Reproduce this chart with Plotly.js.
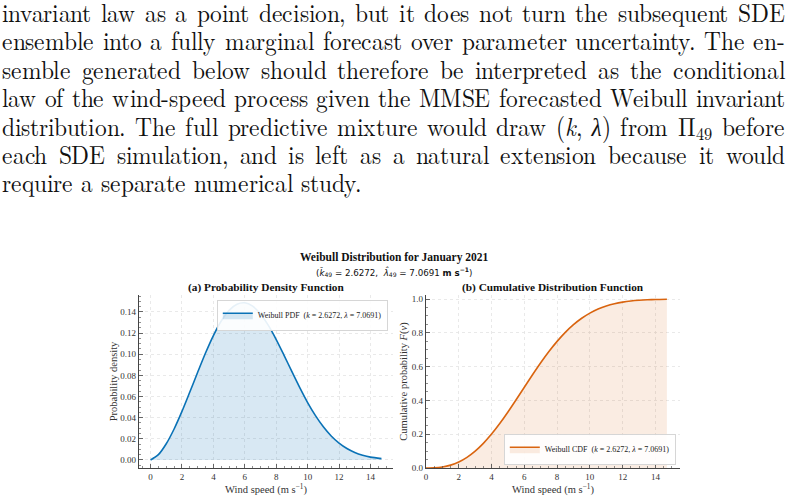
<!DOCTYPE html>
<html>
<head>
<meta charset="utf-8">
<script src="https://cdn.plot.ly/plotly-3.0.1.min.js"></script>
<style>
  @font-face { font-family: 'LMRtight'; font-style: normal; font-weight: 400;
    src: local('LM Roman 10 Regular'), local('LMRoman10-Regular'), local('Latin Modern Roman');
    ascent-override: 84%; descent-override: 22%; line-gap-override: 0%; }
  @font-face { font-family: 'LMRtight'; font-style: italic; font-weight: 400;
    src: local('LM Roman 10 Italic'), local('LMRoman10-Italic'), local('Latin Modern Roman Italic');
    ascent-override: 84%; descent-override: 22%; line-gap-override: 0%; }
  html, body { margin: 0; padding: 0; background: #ffffff; }
  #wrap { position: relative; width: 789px; height: 498px; overflow: hidden; }
  #para { position: absolute; left: 2px; top: 0px; width: 784px; z-index: 2;
          font-family: 'LMRtight', 'Latin Modern Roman', 'Liberation Serif', serif; font-size: 26px;
          line-height: 28.4px; color: #111; transform-origin: left top; }
  #para div { white-space: nowrap; text-align: justify; text-align-last: justify; height: 28.4px; }
  #para div.last { text-align-last: left; }
  #para .sub { font-size: 0.7em; vertical-align: -0.2em; line-height: 0; }
  #chart { position: absolute; left: 0; top: 0; width: 789px; height: 498px; z-index: 1; }
</style>
</head>
<body>
<div id="wrap">
  <div id="para">
    <div>invariant law as a point decision, but it does not turn the subsequent SDE</div>
    <div>ensemble into a fully marginal forecast over parameter uncertainty. The en-</div>
    <div>semble generated below should therefore be interpreted as the conditional</div>
    <div>law of the wind-speed process given the MMSE forecasted Weibull invariant</div>
    <div>distribution. The full predictive mixture would draw (<i>k</i>, <i>λ</i>) from Π<span class="sub">49</span> before</div>
    <div>each SDE simulation, and is left as a natural extension because it would</div>
    <div class="last">require a separate numerical study.</div>
  </div>
  <div id="chart"></div>
</div>
<script>
// Wind speed grid (m/s) at which the curves were read
const windSpeed = [0, 0.5, 1, 1.5, 2, 2.5, 3, 3.5, 4, 4.5, 5, 5.5, 6, 6.5, 7, 7.5,
                   8, 8.5, 9, 9.5, 10, 10.5, 11, 11.5, 12, 12.5, 13, 13.5, 14, 14.7];
// Probability density values
const pdfValues = [0.0000, 0.0050, 0.0153, 0.0293, 0.0459, 0.0642, 0.0829, 0.1011,
                   0.1176, 0.1314, 0.1415, 0.1473, 0.1486, 0.1454, 0.1380, 0.1272,
                   0.1139, 0.0990, 0.0835, 0.0684, 0.0543, 0.0419, 0.0313, 0.0226,
                   0.0159, 0.0108, 0.0071, 0.0045, 0.0027, 0.0013];
// Cumulative probability values
const cdfValues = [0.0000, 0.0010, 0.0059, 0.0169, 0.0356, 0.0631, 0.0998, 0.1459,
                   0.2007, 0.2631, 0.3314, 0.4038, 0.4780, 0.5516, 0.6226, 0.6891,
                   0.7494, 0.8027, 0.8483, 0.8863, 0.9169, 0.9408, 0.9590, 0.9724,
                   0.9820, 0.9886, 0.9930, 0.9958, 0.9976, 0.9989];
const pdfName = "Weibull PDF  (<i>k</i> = 2.6272, <i>λ</i> = 7.0691)";
const cdfName = "Weibull CDF  (<i>k</i> = 2.6272, <i>λ</i> = 7.0691)";
const mainTitle = "<b>Weibull Distribution for January 2021</b>";
const subTitle = "(<i>k̂</i><sub>49</sub> = 2.6272,  <i>λ̂</i><sub>49</sub> = 7.0691 <b>m s<sup>−1</sup></b>)";
const panelTitles = ["<b>(a) Probability Density Function</b>", "<b>(b) Cumulative Distribution Function</b>"];
const xLabel = "Wind speed (m s<sup>−1</sup>)";
const yLabels = ["Probability density", "Cumulative probability <i>F</i>(<i>v</i>)"];

// Paragraph: keep the glyph height, compress horizontally so the widest line fills the width
(function fitParagraph() {
  const para = document.getElementById("para");
  const lines = Array.from(para.children);
  const target = 783;
  let maxW = 0;
  lines.forEach(d => {
    const s = document.createElement("span");
    s.innerHTML = d.innerHTML;
    s.style.whiteSpace = "nowrap";
    d.innerHTML = "";
    d.appendChild(s);
  });
  lines.forEach(d => { maxW = Math.max(maxW, d.firstChild.getBoundingClientRect().width); });
  lines.forEach(d => { d.innerHTML = d.firstChild.innerHTML; });
  const s = Math.min(1, target / (maxW + 2));
  para.style.width = (target / s).toFixed(2) + "px";
  para.style.transform = "scaleX(" + s.toFixed(4) + ")";
})();

const W = 789, H = 498;
const px = v => v / W;
const py = v => (H - v) / H;

const blue = "#0a72b6";
const orange = "#d9640f";
const serif = "Liberation Serif, serif";

const traces = [
  { x: windSpeed, y: pdfValues, type: "scatter", mode: "lines", name: pdfName,
    line: { color: blue, width: 1.6, shape: "spline", smoothing: 0.8 },
    fill: "tozeroy", fillcolor: "rgba(10,114,182,0.16)",
    xaxis: "x", yaxis: "y", legend: "legend" },
  { x: windSpeed, y: cdfValues, type: "scatter", mode: "lines", name: cdfName,
    line: { color: orange, width: 1.6, shape: "spline", smoothing: 0.8 },
    fill: "tozeroy", fillcolor: "rgba(217,100,15,0.12)",
    xaxis: "x2", yaxis: "y2", legend: "legend2" }
];

const axisCommon = {
  showline: true, linecolor: "#444", linewidth: 1.1, mirror: false,
  ticks: "inside", ticklen: 4, tickwidth: 0.8, tickcolor: "#444",
  showgrid: true, gridcolor: "#e3e3e3", griddash: "dot", gridwidth: 0.8,
  zeroline: false,
  tickfont: { family: serif, size: 9, color: "#333" },
  title: { font: { family: serif, size: 10.5, color: "#333" } },
  minor: { ticks: "inside", ticklen: 2, tickwidth: 0.6, tickcolor: "#444", showgrid: false }
};

function ax(extra) {
  const a = JSON.parse(JSON.stringify(axisCommon));
  for (const k in extra) {
    if (typeof extra[k] === "object" && !Array.isArray(extra[k]) && a[k]) Object.assign(a[k], extra[k]);
    else a[k] = extra[k];
  }
  return a;
}

const layout = {
  width: W, height: H,
  margin: { l: 0, r: 0, t: 0, b: 0 },
  paper_bgcolor: "#ffffff", plot_bgcolor: "rgba(0,0,0,0)",
  font: { family: serif, color: "#222" },
  showlegend: true,
  xaxis: ax({ domain: [px(139), px(393)], range: [-0.735, 15.435], dtick: 2, tick0: 0,
              anchor: "y", minor: { dtick: 0.5 }, title: { text: xLabel, standoff: 3 } }),
  yaxis: ax({ domain: [py(468), py(295)], range: [-0.0076, 0.156], dtick: 0.02, tick0: 0,
              tickformat: ".2f", anchor: "x", minor: { dtick: 0.005 }, title: { text: yLabels[0], standoff: 0 } }),
  xaxis2: ax({ domain: [px(426), px(680)], range: [0, 15.5], dtick: 2, tick0: 0,
               anchor: "y2", minor: { dtick: 0.5 }, title: { text: xLabel, standoff: 3 } }),
  yaxis2: ax({ domain: [py(468), py(295)], range: [0, 1.024], dtick: 0.2, tick0: 0,
               tickformat: ".1f", anchor: "x2", minor: { dtick: 0.05 }, title: { text: yLabels[1], standoff: 2 } }),
  legend: { x: px(388), xanchor: "right", y: py(300), yanchor: "top",
            bgcolor: "rgba(255,255,255,0.9)", bordercolor: "#cccccc", borderwidth: 0.8,
            font: { family: serif, size: 8, color: "#222" }, itemwidth: 30, tracegroupgap: 0 },
  legend2: { x: px(676), xanchor: "right", y: py(465), yanchor: "bottom",
             bgcolor: "rgba(255,255,255,0.9)", bordercolor: "#cccccc", borderwidth: 0.8,
             font: { family: serif, size: 8, color: "#222" }, itemwidth: 30, tracegroupgap: 0 },
  annotations: [
    { text: mainTitle, xref: "paper", yref: "paper", x: px(394), y: py(257), xanchor: "center", yanchor: "middle",
      showarrow: false, font: { family: serif, size: 11.5, color: "#111" } },
    { text: subTitle, xref: "paper", yref: "paper", x: px(394), y: py(272), xanchor: "center", yanchor: "middle",
      showarrow: false, font: { family: "DejaVu Sans, sans-serif", size: 8.7, color: "#111" } },
    { text: panelTitles[0], xref: "paper", yref: "paper", x: px(266), y: py(287), xanchor: "center", yanchor: "middle",
      showarrow: false, font: { family: serif, size: 11.3, color: "#111" } },
    { text: panelTitles[1], xref: "paper", yref: "paper", x: px(553), y: py(287), xanchor: "center", yanchor: "middle",
      showarrow: false, font: { family: serif, size: 11.3, color: "#111" } }
  ]
};

Plotly.newPlot("chart", traces, layout, { displayModeBar: false, staticPlot: true });
</script>
</body>
</html>
